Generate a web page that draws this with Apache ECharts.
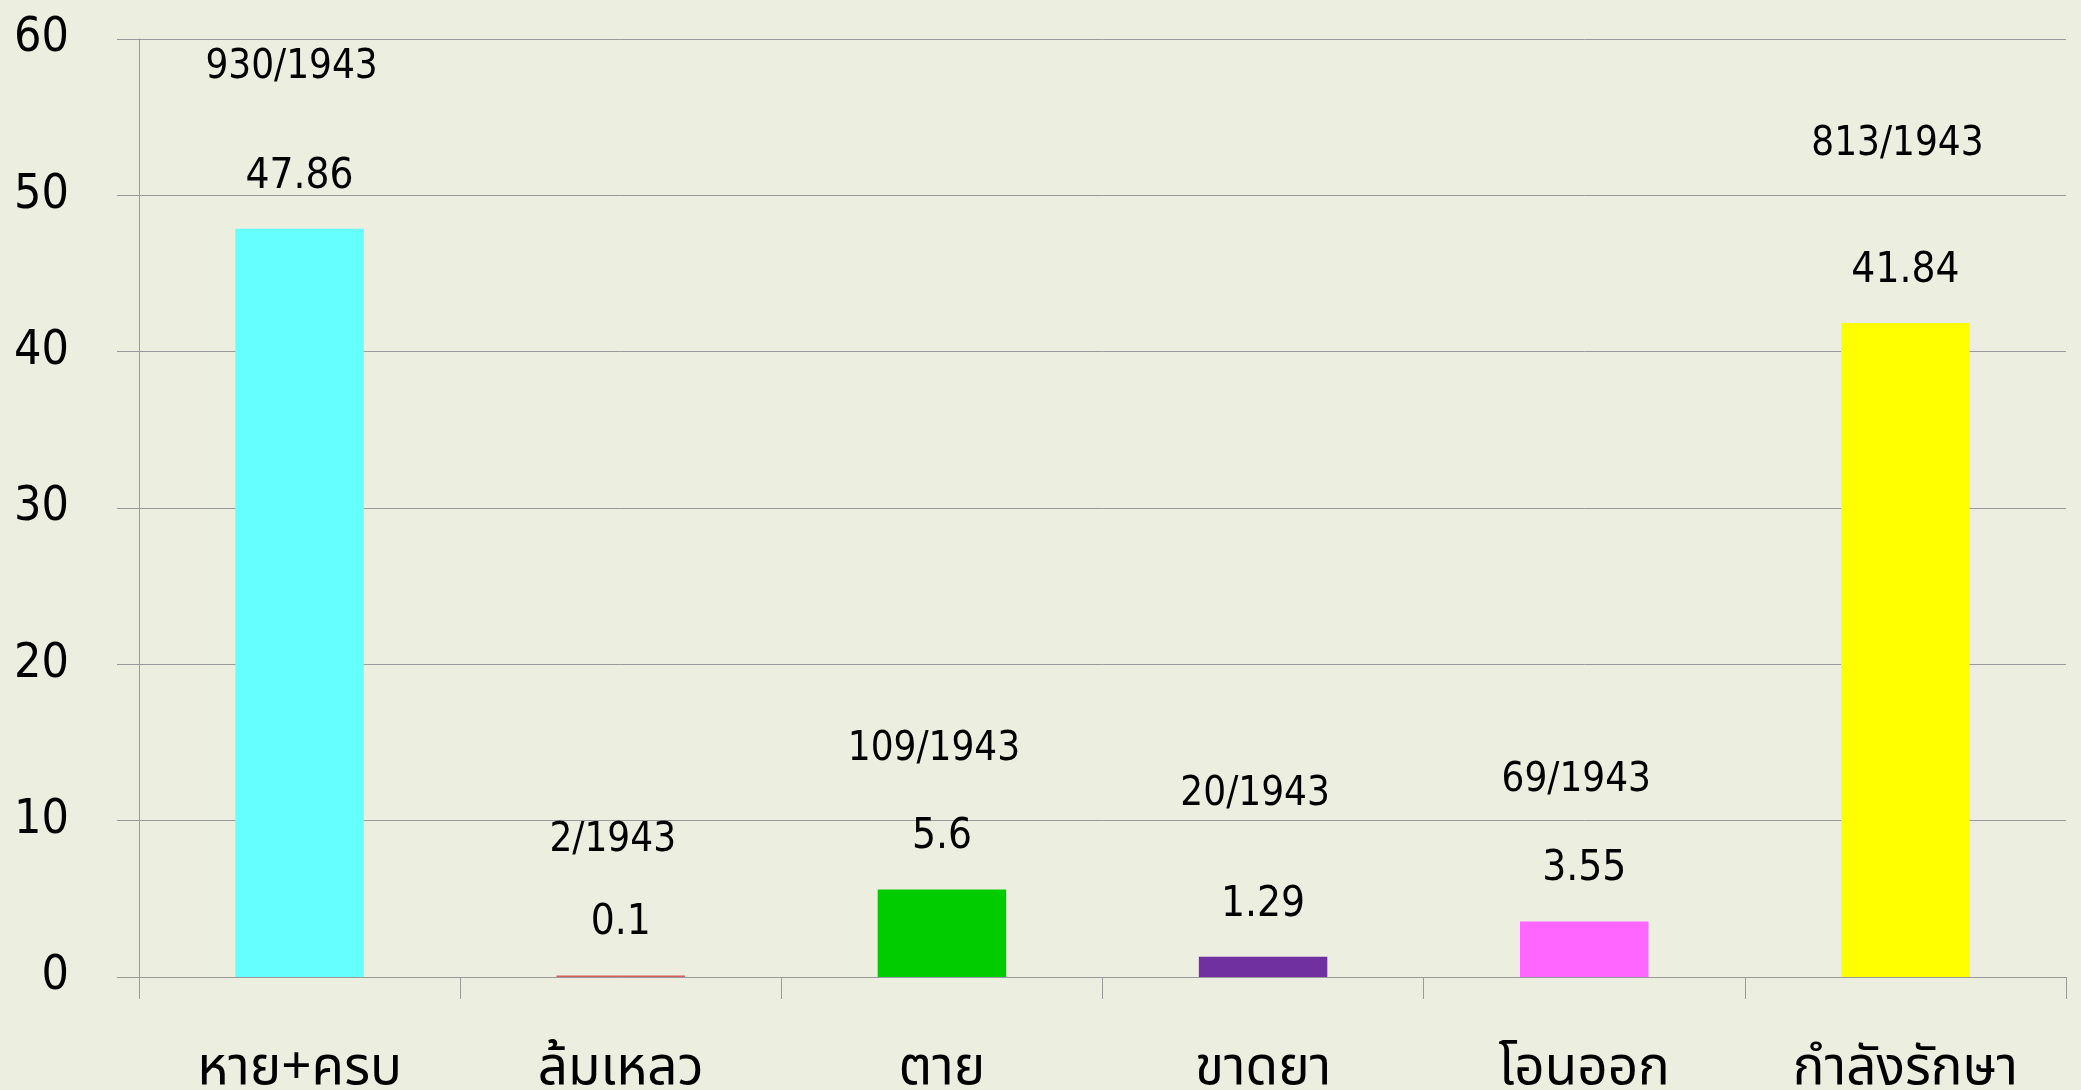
<!DOCTYPE html>
<html>
<head>
<meta charset="utf-8">
<script src="https://cdn.jsdelivr.net/npm/echarts@6/dist/echarts.min.js"></script>
<style>
html,body{margin:0;padding:0;background:#ECEEDF;}
#chart{width:2081px;height:1090px;}
</style>
</head>
<body>
<div id="chart"></div>
<script>
const categories = ['หาย+ครบ', 'ล้มเหลว', 'ตาย', 'ขาดยา', 'โอนออก', 'กำลังรักษา'];
const percentValues = [47.86, 0.1, 5.6, 1.29, 3.55, 41.84];
const ratioLabels = ['930/1943', '2/1943', '109/1943', '20/1943', '69/1943', '813/1943'];
// height (in axis units) at which each ratio annotation is centred
const ratioLabelLevel = [58.4, 9.0, 14.8, 11.9, 12.8, 53.5];
const barColors = ['#66FFFF', '#D95F5F', '#00CC00', '#7030A0', '#FF66FF', '#FFFF00'];
const yTicks = [0, 10, 20, 30, 40, 50, 60];

const numFont = "'DejaVu Sans Condensed', 'Liberation Sans', sans-serif";
const thaiFont = "Tahoma, 'Noto Sans Thai', 'Noto Sans Thai Looped', Loma, Garuda, 'Noto Sans', sans-serif";
const gridColor = '#9A9A9A';

const chart = echarts.init(document.getElementById('chart'), null, {renderer: 'canvas'});
chart.setOption({
  backgroundColor: '#ECEEDF',
  animation: false,
  grid: {left: 139, right: 15, top: 39, bottom: 113, containLabel: false, outerBoundsMode: 'none'},
  xAxis: {
    type: 'category',
    data: categories,
    boundaryGap: true,
    axisLine: {show: true, lineStyle: {color: gridColor, width: 1}},
    axisTick: {show: true, length: 22, alignWithLabel: false, lineStyle: {color: gridColor}},
    axisLabel: {fontFamily: thaiFont, fontSize: 53, color: '#000', margin: 70, interval: 0}
  },
  yAxis: {
    type: 'value',
    min: yTicks[0],
    max: yTicks[yTicks.length - 1],
    interval: 10,
    axisLine: {show: true, lineStyle: {color: gridColor, width: 1}},
    axisTick: {show: true, length: 22, lineStyle: {color: gridColor}},
    splitLine: {show: true, lineStyle: {color: gridColor, width: 1}},
    axisLabel: {fontFamily: numFont, fontSize: 48, color: '#000', margin: 70, padding: [0, 0, 20, 0]}
  },
  series: [
    {
      type: 'bar',
      barWidth: '40%',
      data: percentValues.map((v, i) => ({value: v, itemStyle: {color: barColors[i]}})),
      label: {
        show: true,
        position: 'top',
        distance: 31,
        fontFamily: numFont,
        fontSize: 42,
        color: '#000',
        formatter: p => String(percentValues[p.dataIndex])
      }
    },
    {
      type: 'scatter',
      symbolSize: 0,
      silent: true,
      itemStyle: {opacity: 1, color: '#000'},
      data: ratioLabelLevel.map((v, i) => [categories[i], v]),
      label: {
        show: true,
        position: 'inside',
        offset: [-8, 4],
        fontFamily: numFont,
        fontSize: 40,
        color: '#000',
        opacity: 1,
        formatter: p => ratioLabels[p.dataIndex]
      }
    }
  ]
});
</script>
</body>
</html>
